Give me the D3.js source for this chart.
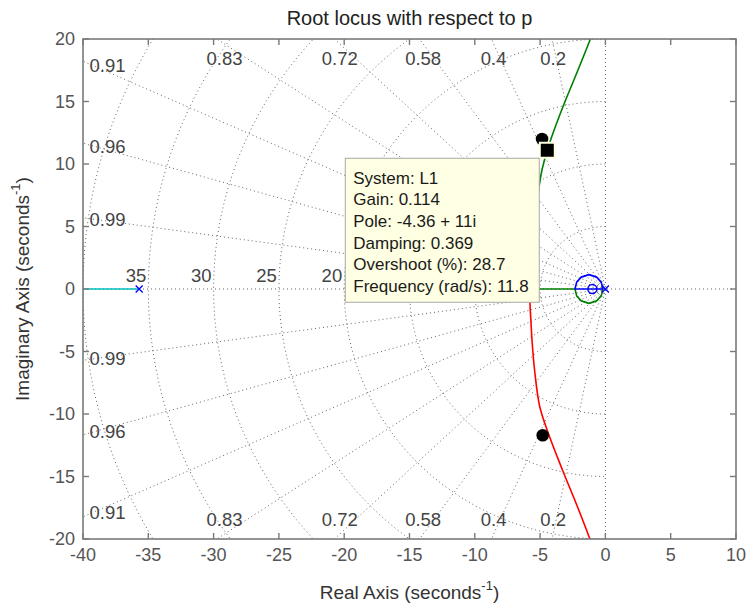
<!DOCTYPE html>
<html><head><meta charset="utf-8">
<script src="https://cdn.jsdelivr.net/npm/d3@7"></script>
<style>
html,body{margin:0;padding:0;background:#fff;}
svg{display:block;font-family:"Liberation Sans",Arial,sans-serif;}
</style></head>
<body>
<svg id="chart" width="750" height="608"></svg>
<script>
// ---- data ----
const xTicks = [-40,-35,-30,-25,-20,-15,-10,-5,0,5,10];
const yTicks = [-20,-15,-10,-5,0,5,10,15,20];
const dampingValues = [0.2,0.4,0.58,0.72,0.83,0.91,0.96,0.99];
const dampingLabels = ["0.2","0.4","0.58","0.72","0.83","0.91","0.96","0.99"];
const freqValues = [5,10,15,20,25,30,35,40];
const freqLabels = ["20","25","30","35"];   // 5, 10, 15 are hidden behind the data tip
// locus branches (real, imag)
const cyanBranch = [[-40,0],[-35.7,0]];
const blueBranch = [[-0.18,0],[-2.33,0],[-2.2,0.55],[-1.85,0.95],[-1.26,1.15],[-0.67,0.95],[-0.32,0.55],[-0.18,0]];
const greenLoop = [[-0.18,0],[-0.32,-0.55],[-0.67,-0.95],[-1.26,-1.15],[-1.85,-0.95],[-2.2,-0.55],[-2.33,0],[-5.8,0]];
const greenBranch = [[-5.8,0],[-5.79,1.2],[-5.74,2.8],[-5.6,4.6],[-5.38,6.5],[-5.08,8.2],[-4.86,9.5],[-4.45,11.1],
  [-4.11,12.18],[-3.25,14.58],[-2.2,17.26],[-1.18,19.92],[-0.95,20.6]];
const redBranch = [[-5.8,0],[-5.77,-1.3],[-5.7,-2.6],[-5.62,-4.1],[-5.4,-6.7],[-5.03,-9.4],[-4.35,-11.6],
  [-3.28,-14.5],[-2.3,-17.0],[-1.26,-19.8],[-1.0,-20.6]];
const polesX = [[-35.7,0],[0,0]];
const zerosO = [[-1.0,0]];
const closedLoopDots = [[-4.85,12.0],[-4.8,-11.7]];
const selectedPole = [-4.45,11.1];
const tipLines = ["System: L1","Gain: 0.114","Pole: -4.36 + 11i","Damping: 0.369","Overshoot (%): 28.7","Frequency (rad/s): 11.8"];

// ---- layout ----
const svg = d3.select("#chart");
const L = 83, R = 736, T = 39, B = 539;
const x = d3.scaleLinear().domain([-40,10]).range([L,R]);
const y = d3.scaleLinear().domain([-20,20]).range([B,T]);

svg.append("defs").append("clipPath").attr("id","clip")
  .append("rect").attr("x",L).attr("y",T).attr("width",R-L).attr("height",B-T);

const gridG = svg.append("g").attr("clip-path","url(#clip)");
const gridStyle = s => s.attr("fill","none").attr("stroke","#666").attr("stroke-width",1).attr("stroke-dasharray","1,3");
const line = d3.line().x(d=>x(d[0])).y(d=>y(d[1]));
const smooth = d3.line().x(d=>x(d[0])).y(d=>y(d[1])).curve(d3.curveCatmullRom);

// damping rays
dampingValues.forEach(z=>{
  const s = Math.sqrt(1-z*z);
  [1,-1].forEach(sg=>{
    gridG.append("path").attr("d", line([[0,0],[-80*z, sg*80*s]])).call(gridStyle);
  });
});
// real & imaginary axes dotted
gridG.append("path").attr("d", line([[-40,0],[10,0]])).call(gridStyle);
gridG.append("path").attr("d", line([[0,-20],[0,20]])).call(gridStyle);
// frequency semicircles
freqValues.forEach(r=>{
  const pts = d3.range(0,181,2).map(a=>{const t=(90+a)*Math.PI/180; return [r*Math.cos(t), r*Math.sin(t)];});
  gridG.append("path").attr("d", line(pts)).call(gridStyle);
});

// damping labels
const lblColor = "#444";
dampingValues.forEach((z,i)=>{
  const s = Math.sqrt(1-z*z);
  const xi = -20*z/s;
  if (xi > -40) {
    [18.45,-18.45].forEach(yy=>{
      svg.append("text").attr("x",x(0.98*xi)).attr("y",y(yy)).attr("text-anchor","middle")
        .attr("dominant-baseline","central").attr("font-size",18.5).attr("fill",lblColor).text(dampingLabels[i]);
    });
  } else {
    const yi = 39.2*s/z;
    [yi,-yi].forEach(yy=>{
      svg.append("text").attr("x",x(-39.5)).attr("y",y(yy)).attr("text-anchor","start")
        .attr("dominant-baseline","central").attr("font-size",18.5).attr("fill",lblColor).text(dampingLabels[i]);
    });
  }
});
// frequency labels
freqLabels.forEach(f=>{
  svg.append("text").attr("x",x(-(+f))-2).attr("y",y(1.12)).attr("text-anchor","end")
    .attr("dominant-baseline","central").attr("font-size",18.5).attr("fill",lblColor).text(f);
});

// locus
const plotG = svg.append("g").attr("clip-path","url(#clip)");
const drawBranch = (pts,color,gen)=>plotG.append("path").attr("d",gen(pts)).attr("fill","none")
  .attr("stroke",color).attr("stroke-width",1.6).attr("stroke-linejoin","round");
drawBranch(cyanBranch,"#00bfbf",line);
drawBranch(greenLoop,"#008000",line);
drawBranch(greenBranch,"#008000",smooth);
drawBranch(redBranch,"#ff0000",smooth);
drawBranch(blueBranch,"#0000ff",line);

// markers
polesX.forEach(p=>{
  const cx=x(p[0]), cy=y(p[1]), h=3.5;
  plotG.append("path").attr("d",`M${cx-h},${cy-h}L${cx+h},${cy+h}M${cx-h},${cy+h}L${cx+h},${cy-h}`)
    .attr("stroke","#0000ff").attr("stroke-width",1.3);
});
zerosO.forEach(p=>{
  plotG.append("circle").attr("cx",x(p[0])).attr("cy",y(p[1])).attr("r",4.5)
    .attr("fill","none").attr("stroke","#0000ff").attr("stroke-width",1.4);
});
closedLoopDots.forEach(p=>{
  plotG.append("circle").attr("cx",x(p[0])).attr("cy",y(p[1])).attr("r",6.3).attr("fill","#000");
});
plotG.append("rect").attr("x",x(selectedPole[0])-7.5).attr("y",y(selectedPole[1])-7.5)
  .attr("width",15).attr("height",15).attr("fill","#000").attr("stroke","#ffffe1").attr("stroke-width",2);

// tooltip
const tx = x(selectedPole[0]) - 202, ty = y(selectedPole[1]) + 8;
svg.append("rect").attr("x",tx).attr("y",ty).attr("width",194).attr("height",144)
  .attr("fill","#ffffe3").attr("stroke","#a8a8a8").attr("stroke-width",1);
tipLines.forEach((t,i)=>{
  svg.append("text").attr("x",tx+8).attr("y",ty+20+i*21.6).attr("dominant-baseline","central")
    .attr("font-size",17).attr("fill","#1a1a1a").text(t);
});

// axes box and ticks
const axColor = "#7a7a7a";
svg.append("rect").attr("x",L).attr("y",T).attr("width",R-L).attr("height",B-T)
  .attr("fill","none").attr("stroke",axColor).attr("stroke-width",1.6);
const tl = 6;
xTicks.forEach(v=>{
  svg.append("line").attr("x1",x(v)).attr("x2",x(v)).attr("y1",B).attr("y2",B-tl).attr("stroke",axColor).attr("stroke-width",1.4);
  svg.append("line").attr("x1",x(v)).attr("x2",x(v)).attr("y1",T).attr("y2",T+tl).attr("stroke",axColor).attr("stroke-width",1.4);
  svg.append("text").attr("x",x(v)).attr("y",B+16).attr("text-anchor","middle").attr("dominant-baseline","central")
    .attr("font-size",18).attr("fill","#555").text(v);
});
yTicks.forEach(v=>{
  svg.append("line").attr("x1",L).attr("x2",L+tl).attr("y1",y(v)).attr("y2",y(v)).attr("stroke",axColor).attr("stroke-width",1.4);
  svg.append("line").attr("x1",R).attr("x2",R-tl).attr("y1",y(v)).attr("y2",y(v)).attr("stroke",axColor).attr("stroke-width",1.4);
  svg.append("text").attr("x",L-8).attr("y",y(v)).attr("text-anchor","end").attr("dominant-baseline","central")
    .attr("font-size",18).attr("fill","#555").text(v);
});

// title and axis labels
svg.append("text").attr("x",(L+R)/2).attr("y",18).attr("text-anchor","middle").attr("dominant-baseline","central")
  .attr("font-size",20).attr("fill","#222").text("Root locus with respect to p");
const xl = svg.append("text").attr("x",(L+R)/2).attr("y",592).attr("text-anchor","middle").attr("dominant-baseline","central")
  .attr("font-size",19).attr("fill","#333");
xl.append("tspan").text("Real Axis (seconds");
xl.append("tspan").attr("font-size",13).attr("dy",-7).text("-1");
xl.append("tspan").attr("dy",7).text(")");
const yl = svg.append("text").attr("transform",`translate(22,${(T+B)/2}) rotate(-90)`).attr("text-anchor","middle")
  .attr("dominant-baseline","central").attr("font-size",19).attr("fill","#333");
yl.append("tspan").text("Imaginary Axis (seconds");
yl.append("tspan").attr("font-size",13).attr("dy",-7).text("-1");
yl.append("tspan").attr("dy",7).text(")");
</script>
</body></html>
